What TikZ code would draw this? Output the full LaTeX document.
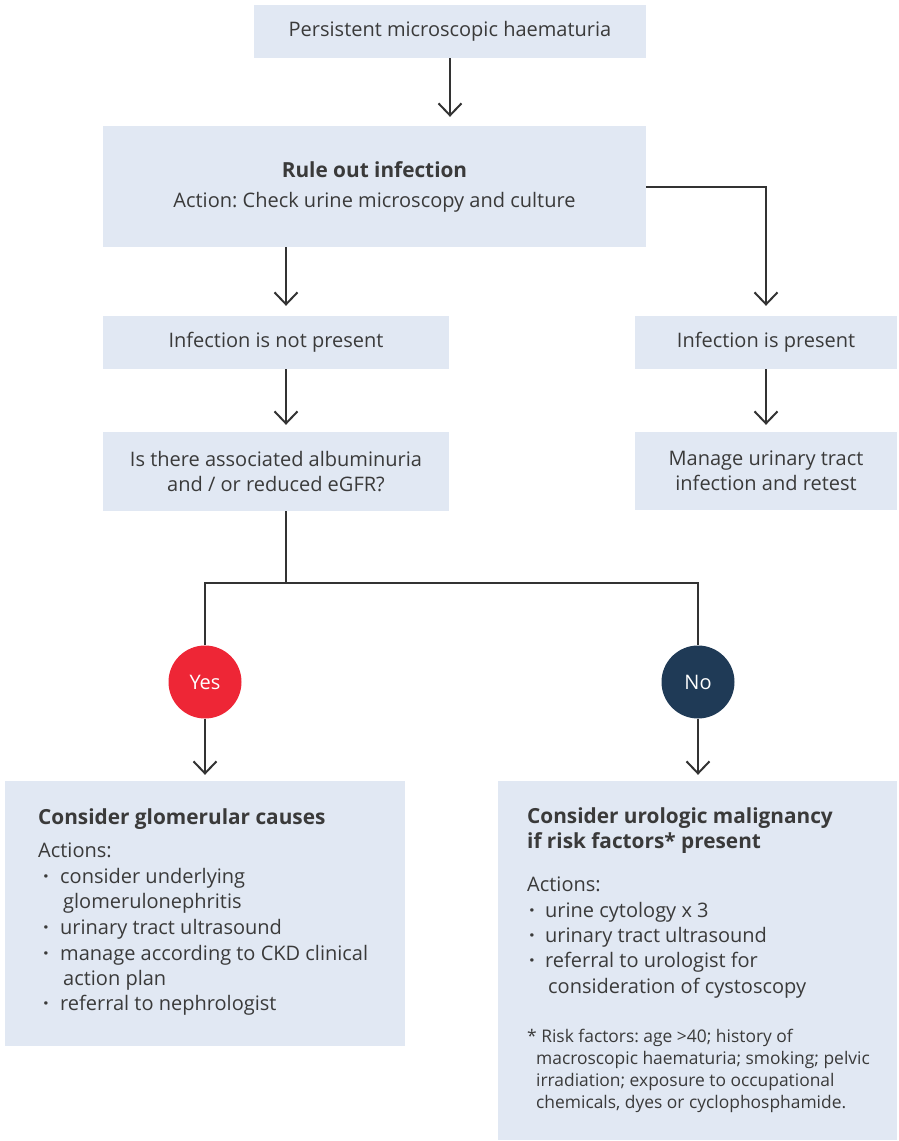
\documentclass[tikz,border=0pt]{standalone}
\usepackage{fontspec}
\setmainfont{Open Sans}
\usetikzlibrary{arrows.meta}
\definecolor{boxfill}{HTML}{E1E8F3}
\definecolor{txt}{HTML}{3A3A3A}
\definecolor{linec}{HTML}{333333}
\definecolor{yesred}{HTML}{EE2636}
\definecolor{nonavy}{HTML}{1F3A56}
\frenchspacing
\begin{document}
\begin{tikzpicture}[x=1pt,y=-1pt,
  box/.style={fill=boxfill, draw=none, inner sep=0pt, text=txt, align=center, font=\fontsize{20}{25}\selectfont},
  arr/.style={draw=linec, line width=2pt, -{Straight Barb[length=12pt,width=23pt,line width=2pt]}},
  ln/.style={draw=linec, line width=2pt},
  circ/.style={circle, minimum size=73pt, inner sep=0pt, text=white, font=\fontsize{20}{22}\selectfont},
  bl/.style={anchor=base west, inner sep=0pt, text=txt, font=\fontsize{20}{22}\selectfont},
  bt/.style={anchor=base west, inner sep=0pt, text=txt, font=\fontsize{20.8}{22}\selectfont\bfseries},
  fn/.style={anchor=base west, inner sep=0pt, text=txt, font=\fontsize{17.4}{20}\selectfont}]
\useasboundingbox (0,0) rectangle (898,1141);
% boxes
\node[box, minimum width=392pt, minimum height=53pt] (top) at (450,31.5) {Persistent microscopic haematuria};
\node[box, minimum width=543pt, minimum height=121pt, font=\fontsize{20}{30}\selectfont] (rule) at (374.5,186.5) {{\fontsize{20.8}{30}\selectfont\bfseries Rule out infection}\\Action: Check urine microscopy and culture};
\node[box, minimum width=346pt, minimum height=53pt] (notp) at (276,342.5) {Infection is not present};
\node[box, minimum width=262pt, minimum height=53pt] (pres) at (766,342.5) {Infection is present};
\node[box, minimum width=346pt, minimum height=79pt] (alb) at (276,471.5) {Is there associated albuminuria\\and / or reduced eGFR?};
\node[box, minimum width=262pt, minimum height=78pt] (man) at (766,471) {Manage urinary tract\\infection and retest};
\node[circ, fill=yesred] (yes) at (205,682) {Yes};
\node[circ, fill=nonavy] (no) at (698,682) {No};
\node[box, minimum width=400pt, minimum height=265pt] (glom) at (205,913.5) {};
\node[box, minimum width=399pt, minimum height=359pt] (uro) at (697.5,960.5) {};
% glomerular text
\node[bt] (gt) at (38,824) {Consider glomerular causes};
\node[bl] (ga) at (38,857) {Actions:};
\node[bl] (g1) at (43,883) {\makebox[17pt][l]{\textbf{·}}consider underlying};
\node[bl] (g2) at (63,908) {glomerulonephritis};
\node[bl] (g3) at (43,934) {\makebox[17pt][l]{\textbf{·}}urinary tract ultrasound};
\node[bl] (g4) at (43,960) {\makebox[17pt][l]{\textbf{·}}manage according to CKD clinical};
\node[bl] (g5) at (63,985) {action plan};
\node[bl] (g6) at (43,1010) {\makebox[17pt][l]{\textbf{·}}referral to nephrologist};
% urologic text
\node[bt] (ut1) at (527,823) {Consider urologic malignancy};
\node[bt] (ut2) at (527,848) {if risk factors* present};
\node[bl] (ua) at (527,891) {Actions:};
\node[bl] (u1) at (529,917) {\makebox[16pt][l]{\textbf{·}}urine cytology x 3};
\node[bl] (u2) at (529,942) {\makebox[16pt][l]{\textbf{·}}urinary tract ultrasound};
\node[bl] (u3) at (529,967) {\makebox[16pt][l]{\textbf{·}}referral to urologist for};
\node[bl] (u4) at (548,993) {consideration of cystoscopy};
\node[fn] (f1) at (527,1042) {* Risk factors: age >40; history of};
\node[fn] (f2) at (536,1064) {macroscopic haematuria; smoking; pelvic};
\node[fn] (f3) at (536,1086) {irradiation; exposure to occupational};
\node[fn] (f4) at (536,1108) {chemicals, dyes or cyclophosphamide.};
% connectors
\coordinate (c1) at (286,0);
\coordinate (j) at (286,583);
\draw[arr, shorten >=9pt] (top.south) -- (top.south |- rule.north);
\draw[arr, shorten >=10pt] (rule.south -| c1) -- (notp.north -| c1);
\draw[arr, shorten >=10pt] (rule.east) -| (pres.north);
\draw[arr, shorten >=7pt] (notp.south -| c1) -- (alb.north -| c1);
\draw[arr, shorten >=7pt] (pres.south) -- (man.north);
\draw[ln] (alb.south -| j) -- (j);
\draw[ln] (yes.north) -- (yes.north |- j) -- (no.north |- j) -- (no.north);
\draw[arr, shorten >=6pt] (yes.south) -- (yes.south |- glom.north);
\draw[arr, shorten >=6pt] (no.south) -- (no.south |- uro.north);
\end{tikzpicture}
\end{document}
